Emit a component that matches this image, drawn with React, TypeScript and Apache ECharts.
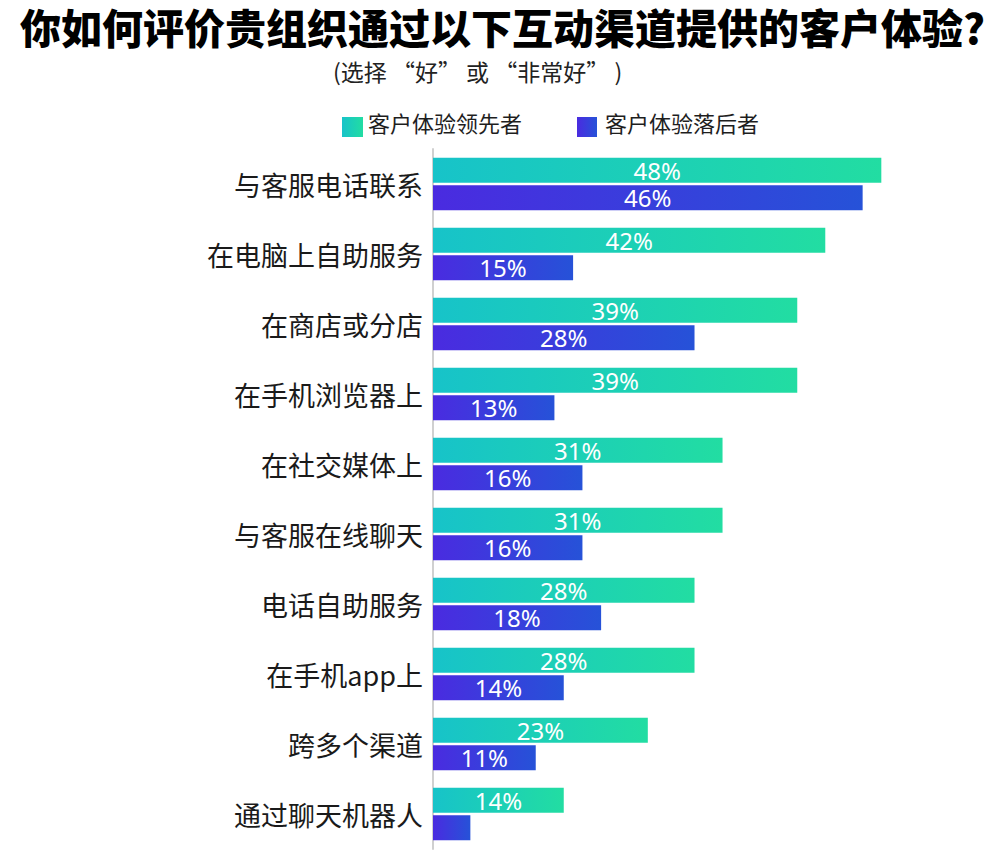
import React, { useEffect, useRef } from "react";
import * as echarts from "echarts";

const categories = [
  "与客服电话联系",
  "在电脑上自助服务",
  "在商店或分店",
  "在手机浏览器上",
  "在社交媒体上",
  "与客服在线聊天",
  "电话自助服务",
  "在手机app上",
  "跨多个渠道",
  "通过聊天机器人",
];
const leaders = [48, 42, 39, 39, 31, 31, 28, 28, 23, 14];
const laggers = [46, 15, 28, 13, 16, 16, 18, 14, 11, 4];
const leaderName = "客户体验领先者";
const laggerName = "客户体验落后者";
const titleText = "你如何评价贵组织通过以下互动渠道提供的客户体验?";
const subtitleText = "(选择 “好” 或 “非常好” )";

const FONT = '"Noto Sans CJK SC", "Noto Sans", sans-serif';

export default function App() {
  const ref = useRef<HTMLDivElement>(null);
  useEffect(() => {
    if (!ref.current) return;
    document.body.style.margin = "0";
    const chart = echarts.init(ref.current, null, { renderer: "svg" });
    const teal = new echarts.graphic.LinearGradient(0, 0, 1, 0, [
      { offset: 0, color: "#17c3c9" },
      { offset: 1, color: "#22dda2" },
    ]);
    const blue = new echarts.graphic.LinearGradient(0, 0, 1, 0, [
      { offset: 0, color: "#4a2be0" },
      { offset: 1, color: "#2652d8" },
    ]);
    const labelStyle = {
      show: true,
      position: "inside",
      color: "#ffffff",
      fontSize: 24,
      lineHeight: 24,
      fontFamily: '"Noto Sans", sans-serif',
      formatter: "{c}%",
    };
    chart.setOption({
      animation: false,
      backgroundColor: "#ffffff",
      title: {
        text: titleText,
        left: 20,
        top: 5,
        padding: 0,
        textStyle: {
          fontSize: 41,
          fontWeight: 900,
          color: "#000000",
          fontFamily: FONT,
        },
      },
      graphic: [
        {
          type: "text",
          left: 333,
          top: 59,
          style: {
            text: subtitleText,
            fontSize: 23,
            fill: "#222222",
            fontFamily: FONT,
          },
        },
        {
          type: "rect",
          shape: { x: 342, y: 117, width: 21, height: 20 },
          style: { fill: teal },
        },
        {
          type: "text",
          left: 368,
          top: 111,
          style: { text: leaderName, fontSize: 22, fill: "#1e1e1e", fontFamily: FONT },
        },
        {
          type: "rect",
          shape: { x: 577, y: 117, width: 20, height: 20 },
          style: { fill: blue },
        },
        {
          type: "text",
          left: 605,
          top: 111,
          style: { text: laggerName, fontSize: 22, fill: "#1e1e1e", fontFamily: FONT },
        },
      ],
      grid: { left: 433, top: 149, width: 467, height: 700, containLabel: false },
      xAxis: {
        type: "value",
        min: 0,
        max: 50,
        show: false,
      },
      yAxis: {
        type: "category",
        data: categories,
        inverse: true,
        axisTick: { show: false },
        axisLine: { show: true, lineStyle: { color: "#d0d0d0", width: 2 } },
        axisLabel: {
          fontSize: 27,
          color: "#1a1a1a",
          fontFamily: FONT,
          margin: 10,
        },
      },
      series: [
        {
          name: leaderName,
          type: "bar",
          data: leaders,
          barGap: "10%",
          barCategoryGap: "25%",
          itemStyle: { color: teal },
          label: labelStyle,
        },
        {
          name: laggerName,
          type: "bar",
          data: laggers.map((v) => (v < 10 ? { value: v, label: { show: false } } : v)),
          itemStyle: { color: blue },
          label: labelStyle,
        },
      ],
    });
    return () => chart.dispose();
  }, []);
  return <div ref={ref} style={{ width: 1000, height: 860 }} />;
}
